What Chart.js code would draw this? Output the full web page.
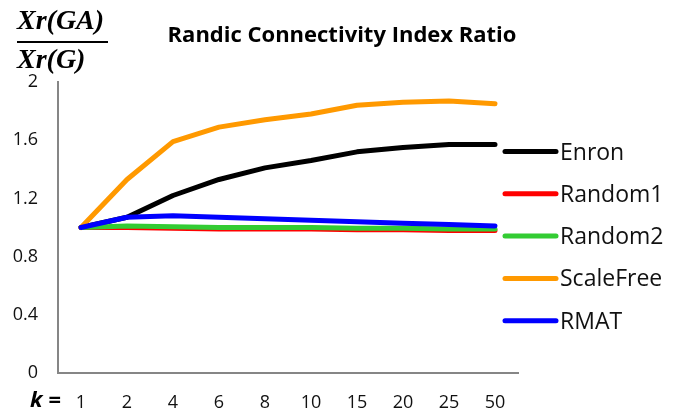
<!DOCTYPE html>
<html>
<head>
<meta charset="utf-8">
<script src="https://cdn.jsdelivr.net/npm/chart.js@4.4.1/dist/chart.umd.min.js"></script>
<style>
  html, body { margin: 0; padding: 0; background: #fff; }
  #wrap { width: 680px; height: 413px; }
</style>
</head>
<body>
<div id="wrap"><canvas id="ratioChart" width="680" height="413"></canvas></div>
<script>
// k values on the x axis
const kLabels = ["1", "2", "4", "6", "8", "10", "15", "20", "25", "50"];

// ratio values per graph
const enron     = [1.00, 1.07, 1.22, 1.33, 1.41, 1.46, 1.52, 1.55, 1.57, 1.57];
const random1   = [1.00, 1.00, 0.995, 0.99, 0.99, 0.99, 0.985, 0.985, 0.98, 0.98];
const random2   = [1.00, 1.01, 1.005, 1.00, 1.00, 1.00, 0.995, 0.995, 0.99, 0.99];
const scaleFree = [1.00, 1.33, 1.59, 1.69, 1.74, 1.78, 1.84, 1.86, 1.87, 1.85];
const rmat      = [1.00, 1.07, 1.08, 1.07, 1.06, 1.05, 1.04, 1.03, 1.02, 1.01];

const seriesNames = ["Enron", "Random1", "Random2", "ScaleFree", "RMAT"];
const yTicks = [0, 0.4, 0.8, 1.2, 1.6, 2];
const chartTitle = "Randic Connectivity Index Ratio";

const colors = ["#000000", "#ff0000", "#33cc33", "#ff9900", "#0000ff"];
const textFont = "'Open Sans', 'Liberation Sans', sans-serif";

function makeSet(i, values) {
    return {
        label: seriesNames[i],
        data: values,
        borderColor: colors[i],
        backgroundColor: colors[i],
        borderWidth: 5,
        pointRadius: 0,
        tension: 0,
        borderCapStyle: "round",
        borderJoinStyle: "round",
        order: 4 - i, // later series drawn on top
    };
}

// title, fraction label, "k =" and the legend drawn by hand
const extrasPlugin = {
    id: "extras",
    afterDraw(chart) {
        const ctx = chart.ctx;
        ctx.save();
        ctx.fillStyle = "#000";

        // title
        ctx.font = "bold 22px " + textFont;
        ctx.textAlign = "center";
        ctx.textBaseline = "alphabetic";
        ctx.fillText(chartTitle, 342, 42);

        // y axis label as a fraction
        ctx.font = "bold italic 28px 'Liberation Serif', serif";
        ctx.textAlign = "left";
        ctx.fillText("Xr(GA)", 17, 29);
        ctx.fillText("Xr(G)", 17, 68);
        ctx.fillRect(17, 41, 91, 2);

        // "k =" before the x labels
        ctx.font = "bold italic 22px " + textFont;
        ctx.fillText("k =", 30, 407);

        // legend
        chart.data.datasets.forEach((ds, i) => {
            const y = 151.5 + i * 42.3;
            ctx.strokeStyle = ds.borderColor;
            ctx.lineWidth = 5;
            ctx.lineCap = "round";
            ctx.beginPath();
            ctx.moveTo(505, y);
            ctx.lineTo(556, y);
            ctx.stroke();
            ctx.fillStyle = "#111";
            ctx.font = "23px " + textFont;
            ctx.fillText(ds.label, 560, y + 8);
        });
        ctx.restore();
    },
};

const ctx = document.getElementById("ratioChart").getContext("2d");
new Chart(ctx, {
    type: "line",
    data: {
        labels: kLabels,
        datasets: [
            makeSet(0, enron),
            makeSet(1, random1),
            makeSet(2, random2),
            makeSet(3, scaleFree),
            makeSet(4, rmat),
        ],
    },
    options: {
        responsive: false,
        animation: false,
        layout: { padding: { left: 0, right: 162, top: 82, bottom: 0 } },
        plugins: {
            legend: { display: false },
            tooltip: { enabled: false },
            title: { display: false },
        },
        scales: {
            x: {
                offset: true,
                grid: { display: false, drawTicks: false },
                border: { color: "#868686", width: 2 },
                ticks: {
                    color: "#111",
                    font: { family: textFont, size: 18 },
                    padding: 19,
                    maxRotation: 0,
                },
                afterFit: (s) => { s.height = 40; },
            },
            y: {
                min: 0,
                max: 2,
                grid: { display: false, drawTicks: false },
                border: { color: "#868686", width: 2 },
                afterBuildTicks: (s) => { s.ticks = yTicks.map((v) => ({ value: v })); },
                ticks: {
                    color: "#111",
                    font: { family: textFont, size: 18 },
                    padding: 20,
                    callback: (v) => String(v),
                },
                afterFit: (s) => { s.width = 58; },
            },
        },
    },
    plugins: [extrasPlugin],
});
</script>
</body>
</html>
